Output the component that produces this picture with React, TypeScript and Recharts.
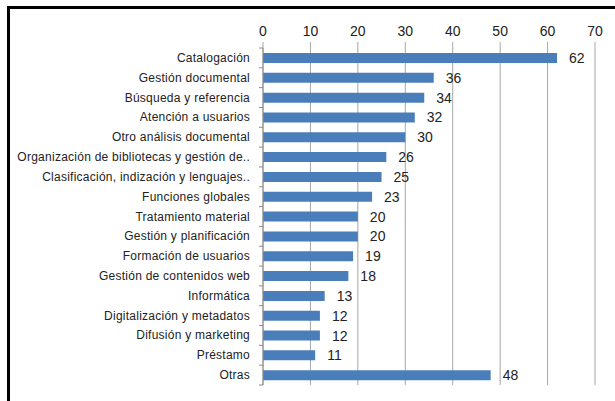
import { BarChart, Bar, XAxis, YAxis, CartesianGrid, LabelList } from 'recharts';

const categories = [
  'Catalogación',
  'Gestión documental',
  'Búsqueda y referencia',
  'Atención a usuarios',
  'Otro análisis documental',
  'Organización de bibliotecas y gestión de..',
  'Clasificación, indización y lenguajes..',
  'Funciones globales',
  'Tratamiento material',
  'Gestión y planificación',
  'Formación de usuarios',
  'Gestión de contenidos web',
  'Informática',
  'Digitalización y metadatos',
  'Difusión y marketing',
  'Préstamo',
  'Otras',
];

const values = [62, 36, 34, 32, 30, 26, 25, 23, 20, 20, 19, 18, 13, 12, 12, 11, 48];

const xTicks = [0, 10, 20, 30, 40, 50, 60, 70];

const data = categories.map((name, i) => ({ name, value: values[i] }));

const WIDTH = 615;
const HEIGHT = 401;
const MARGIN = { top: 8, right: 20, bottom: 16, left: 0 };
const X_AXIS_HEIGHT = 40;
const Y_AXIS_WIDTH = 263;
const PLOT_H = HEIGHT - MARGIN.top - MARGIN.bottom - X_AXIS_HEIGHT;
const BAND = PLOT_H / categories.length;
const FONT = '"Liberation Sans", Arial, sans-serif';

// category label plus the small tick marks between categories, as in Excel
function CategoryTick(props: any) {
  const { x, y, payload, index } = props;
  const axisX = x + 13;
  return (
    <g>
      <text
        x={x}
        y={y}
        dy={4}
        textAnchor="end"
        fontSize={12}
        letterSpacing={0.25}
        fill="#222"
        fontFamily={FONT}
      >
        {payload.value}
      </text>
      <line x1={axisX - 4} x2={axisX} y1={y + BAND / 2} y2={y + BAND / 2} stroke="#8c8c8c" />
      {index === 0 && (
        <line x1={axisX - 4} x2={axisX} y1={y - BAND / 2} y2={y - BAND / 2} stroke="#8c8c8c" />
      )}
    </g>
  );
}

function ValueLabel(props: any) {
  const { x, y, width, height, value } = props;
  return (
    <text
      x={x + width + 12}
      y={y + height / 2 + 5}
      fontSize={14}
      fill="#222"
      fontFamily={FONT}
    >
      {value}
    </text>
  );
}

export default function App() {
  return (
    <div style={{ position: 'absolute', left: 0, top: 0, width: WIDTH, height: HEIGHT, background: '#fff' }}>
      <div
        style={{
          position: 'absolute',
          left: 7,
          top: 6,
          width: WIDTH - 7,
          height: HEIGHT - 6,
          borderLeft: '3px solid #000',
          borderTop: '3px solid #000',
        }}
      />
      <BarChart
        width={WIDTH}
        height={HEIGHT}
        data={data}
        layout="vertical"
        margin={MARGIN}
        barCategoryGap={0}
        style={{ position: 'absolute', left: 0, top: 0 }}
      >
        <CartesianGrid horizontal={false} stroke="#a6a6a6" />
        <XAxis
          type="number"
          orientation="top"
          domain={[0, 70]}
          ticks={xTicks}
          height={X_AXIS_HEIGHT}
          axisLine={false}
          tickLine={{ stroke: '#a6a6a6' }}
          tickSize={6}
          tickMargin={6}
          tick={{ fontSize: 14, fill: '#222', fontFamily: FONT }}
          interval={0}
        />
        <YAxis
          type="category"
          dataKey="name"
          width={Y_AXIS_WIDTH}
          axisLine={{ stroke: '#8c8c8c' }}
          tickLine={false}
          tickSize={0}
          tickMargin={13}
          tick={<CategoryTick />}
          interval={0}
        />
        <Bar dataKey="value" fill="#4a7ebb" barSize={10} isAnimationActive={false}>
          <LabelList dataKey="value" content={<ValueLabel />} />
        </Bar>
      </BarChart>
    </div>
  );
}
